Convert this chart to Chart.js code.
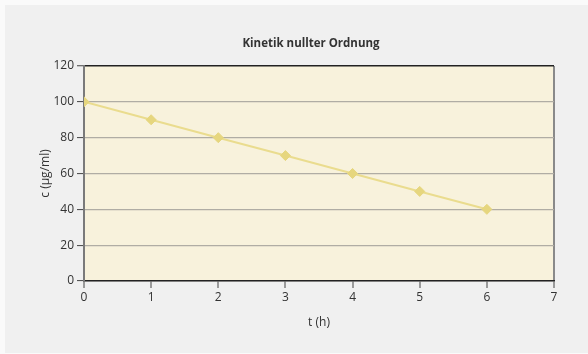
<!DOCTYPE html>
<html>
<head>
<meta charset="utf-8">
<script src="https://cdn.jsdelivr.net/npm/chart.js@4/dist/chart.umd.min.js"></script>
<style>
  html, body { margin: 0; padding: 0; background: #fafafa; }
  #wrap { width: 588px; height: 354px; }
</style>
</head>
<body>
<div id="wrap"><canvas id="chart" width="588" height="354"></canvas></div>
<script>
const timeHours = [0, 1, 2, 3, 4, 5, 6];
const concentration = [100, 90, 80, 70, 60, 50, 40];
const chartTitle = 'Kinetik nullter Ordnung';
const xTitle = 't (h)';
const yTitle = 'c (µg/ml)';

const FONT = '"Open Sans", "DejaVu Sans", sans-serif';

const backdrop = {
    id: 'backdrop',
    beforeDraw(chart) {
        const ctx = chart.ctx;
        const a = chart.chartArea;
        ctx.save();
        ctx.fillStyle = '#f0f0f0';
        ctx.fillRect(5, 5, chart.width - 5, chart.height - 6);
        ctx.fillStyle = '#f8f2dc';
        ctx.fillRect(a.left, a.top, a.right - a.left, a.bottom - a.top);
        ctx.restore();
    },
    afterDraw(chart) {
        const ctx = chart.ctx;
        ctx.save();
        ctx.font = 'bold 11.5px ' + FONT;
        ctx.fillStyle = '#333';
        ctx.textAlign = 'center';
        ctx.textBaseline = 'middle';
        ctx.fillText(chartTitle, 311, 44);
        ctx.restore();
    }
};

const points = timeHours.map((t, i) => ({ x: t, y: concentration[i] }));

new Chart(document.getElementById('chart'), {
    type: 'line',
    data: {
        datasets: [{
            data: points,
            borderColor: '#eadc8e',
            borderWidth: 2,
            backgroundColor: '#e6d67e',
            pointBackgroundColor: '#e6d67e',
            pointBorderColor: '#e6d67e',
            pointStyle: 'rectRot',
            pointRadius: 5,
            pointBorderWidth: 1,
            tension: 0
        }]
    },
    options: {
        responsive: false,
        animation: false,
        layout: { padding: { left: 0, top: 66, right: 34, bottom: 0 } },
        plugins: {
            legend: { display: false },
            tooltip: { enabled: false }
        },
        scales: {
            x: {
                type: 'linear',
                min: 0,
                max: 7,
                afterFit: s => { s.height = 73; },
                ticks: { stepSize: 1, color: '#333', padding: 2, font: { family: FONT, size: 12 } },
                grid: {
                    color: c => (c.tick && c.tick.value === 7) ? '#8a8a8a' : 'rgba(0,0,0,0)',
                    lineWidth: 2,
                    tickColor: '#444',
                    tickLength: 7,
                    tickWidth: 1
                },
                border: { color: '#222', width: 1.5 },
                title: { display: true, text: xTitle, color: '#333', padding: { top: 0, bottom: 24 }, font: { family: FONT, size: 12 } }
            },
            y: {
                min: 0,
                max: 120,
                afterFit: s => { s.width = 84; },
                ticks: { stepSize: 20, color: '#333', padding: 3, font: { family: FONT, size: 12 } },
                grid: {
                    color: c => (c.tick && c.tick.value === 120) ? '#222' : '#b0ada4',
                    lineWidth: c => (c.tick && c.tick.value === 120) ? 1.5 : 1.2,
                    tickColor: '#444',
                    tickLength: 7,
                    tickWidth: 1
                },
                border: { color: '#7a7a7a', width: 2 },
                title: { display: true, text: yTitle, color: '#333', padding: { top: 38 }, font: { family: FONT, size: 12 } }
            }
        }
    },
    plugins: [backdrop]
});
</script>
</body>
</html>
